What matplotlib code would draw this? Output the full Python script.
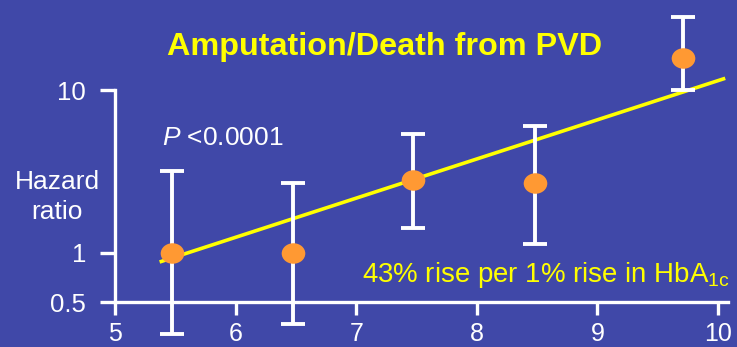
import matplotlib
matplotlib.use("Agg")
import matplotlib.pyplot as plt
from matplotlib.path import Path
from matplotlib.transforms import Affine2D

# HbA1c category centres and hazard ratios with 95% CI
hba1c = [5.47, 6.48, 7.47, 8.48, 9.71]
hazard = [1.00, 1.00, 2.80, 2.67, 15.7]
ci_low = [0.318, 0.366, 1.43, 1.135, 10.0]
ci_high = [3.19, 2.70, 5.35, 6.01, 28.1]

# fitted trend line end points
fit_x = [5.37, 10.06]
fit_y = [0.88, 11.8]

x_ticks = [5, 6, 7, 8, 9, 10]
y_ticks = [0.5, 1, 10]
y_tick_labels = ["0.5", "1", "10"]

BG = "#4048A8"
WHITE = "#FFFFFF"
YELLOW = "#FFFF00"
ORANGE = "#FF9933"

plt.rcParams["font.family"] = ["Liberation Sans", "DejaVu Sans"]
plt.rcParams["mathtext.fontset"] = "custom"
plt.rcParams["mathtext.rm"] = "Liberation Sans"
plt.rcParams["mathtext.it"] = "Liberation Sans:italic"

W, H = 737, 347
fig = plt.figure(figsize=(W / 100, H / 100), dpi=100, facecolor=BG)
ax = fig.add_axes([115 / W, 1 - 302 / H, (728 - 115) / W, (302 - 90) / H])
ax.set_facecolor(BG)

ax.set_yscale("log")
ax.set_xlim(5, 10.083)
ax.set_ylim(0.5, 10)

# regression line
ax.plot(fit_x, fit_y, color=YELLOW, lw=2.6, solid_capstyle="butt", zorder=2, clip_on=False)

# confidence intervals
yerr = [[h - lo for h, lo in zip(hazard, ci_low)], [hi - h for h, hi in zip(hazard, ci_high)]]
ax.errorbar(hba1c, hazard, yerr=yerr, fmt="none", ecolor=WHITE, elinewidth=2.8,
            capsize=8.6, capthick=2.8, zorder=3, clip_on=False)

# slightly wide oval markers
oval = Path.unit_circle().transformed(Affine2D().scale(1.15, 1.0))
ax.plot(hba1c, hazard, linestyle="none", marker=oval, markersize=17,
        color=ORANGE, markeredgewidth=0, zorder=4, clip_on=False)

for s in ["top", "right"]:
    ax.spines[s].set_visible(False)
for s in ["left", "bottom"]:
    ax.spines[s].set_color(WHITE)
    ax.spines[s].set_linewidth(2.4)

ax.set_xticks(x_ticks)
ax.set_xticklabels([str(v) for v in x_ticks])
ax.set_yticks(y_ticks)
ax.set_yticklabels(y_tick_labels)
ax.yaxis.set_minor_locator(matplotlib.ticker.NullLocator())
ax.tick_params(axis="x", direction="out", length=9, width=2.4, color=WHITE,
               labelcolor=WHITE, labelsize=18, pad=5.5)
ax.tick_params(axis="y", direction="out", length=10.8, width=2.4, color=WHITE,
               labelcolor=WHITE, labelsize=18.5, pad=10)

fig.text(57 / W, 1 - 197 / H, "Hazard\nratio", color=WHITE, fontsize=19,
         ha="center", va="center", linespacing=1.3)

fig.text(385 / W, 1 - 47 / H, "Amputation/Death from PVD", color=YELLOW,
         fontsize=23.3, fontweight="bold", ha="center", va="center")

fig.text(162 / W, 1 - 138 / H, r"$\it{P}$ <0.0001", color=WHITE, fontsize=19,
         ha="left", va="center")

fig.text(730 / W, 1 - 275 / H, r"43% rise per 1% rise in HbA$_\mathregular{1c}$",
         color=YELLOW, fontsize=19.9, ha="right", va="center")

fig.savefig("out.png", dpi=100, facecolor=BG)
